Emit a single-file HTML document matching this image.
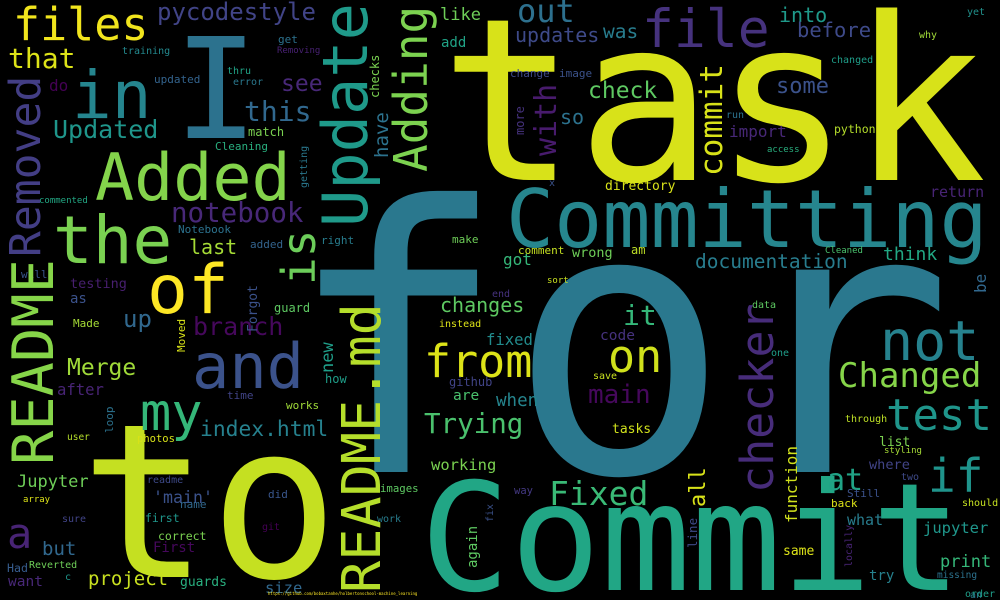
<!DOCTYPE html>
<html><head><meta charset="utf-8"><title>Commit message word cloud</title>
<style>
html,body{margin:0;padding:0;background:#000;}
svg{display:block;}
text{font-family:"DejaVu Sans Mono","Liberation Mono",monospace;}
</style></head>
<body>
<svg id="cloud" width="1000" height="600" viewBox="0 0 1000 600" xmlns="http://www.w3.org/2000/svg">
<rect x="0" y="0" width="1000" height="600" fill="#000"/>
</svg>
<script>
// word, x, baseline y, font size, color, rotated(1 = vertical bottom-to-top)
const words = [
["for",285,472,370,"#2a788e",0],
["task",440,180,227,"#d8e219",0],
["to",80,577,215,"#c5e021",0],
["Commit",420,590,150,"#21a685",0],
["Committing",506,247,80,"#26868e",0],
["I",174,138,140,"#2c728e",0],
["Added",95,200,65,"#84d44b",0],
["the",53,263,66,"#7ad151",0],
["in",72,118,66,"#25858e",0],
["files",13,40,45,"#f1e51d",0],
["of",147,313,68,"#fde725",0],
["and",192,388,62,"#3b528b",0],
["my",140,430,52,"#35b779",0],
["pycodestyle",157,20,24,"#414487",0],
["that",8,68,28,"#dde318",0],
["Updated",53,138,25,"#1f968b",0],
["this",244,121,28,"#31688e",0],
["see",281,91,23,"#482878",0],
["do",49,91,16,"#440154",0],
["updated",154,83,11,"#33638d",0],
["training",122,54,10,"#23898e",0],
["get",278,43,11,"#2c728e",0],
["Removing",277,53,9,"#482173",0],
["thru",227,74,10,"#20a386",0],
["error",233,85,10,"#2a788e",0],
["match",248,136,12,"#7ad151",0],
["Cleaning",215,150,11,"#29af7f",0],
["commented",39,203,9,"#22a884",0],
["notebook",171,222,27.5,"#482878",0],
["Notebook",178,233,11,"#2c728e",0],
["last",189,254,20,"#a5db36",0],
["added",250,248,11,"#33638d",0],
["right",321,244,11,"#287d8e",0],
["will",21,278,11,"#39568c",0],
["testing",70,288,13.5,"#481f70",0],
["as",70,303,14,"#3b528b",0],
["Made",73,327,11,"#a5db36",0],
["up",123,327,24,"#31688e",0],
["guard",274,312,12,"#5ec962",0],
["branch",193,335,25,"#46085c",0],
["how",325,383,12,"#1f9e89",0],
["Merge",67,375,23,"#a0da39",0],
["after",57,395,15.6,"#482475",0],
["time",227,399,11,"#414487",0],
["works",286,409,11,"#a0da39",0],
["index.html",200,436,21.3,"#26818e",0],
["user",67,440,9.5,"#b5de2b",0],
["photos",137,442,10.5,"#d8e219",0],
["Jupyter",17,487,17,"#6ece58",0],
["readme",147,483,10,"#3e4a89",0],
["'main'",153,503,16.6,"#3b528b",0],
["name",180,508,11,"#31688e",0],
["did",268,498,11,"#39568c",0],
["array",23,502,9,"#dde318",0],
["images",380,492,10.7,"#5ec962",0],
["a",7,548,42,"#482475",0],
["sure",62,522,10,"#414487",0],
["first",145,522,11.5,"#1f968b",0],
["work",377,522,10,"#287d8e",0],
["git",262,530,10,"#440154",0],
["correct",158,540,11.5,"#7ad151",0],
["but",42,555,19,"#31688e",0],
["First",153,552,14,"#46085c",0],
["Had",7,572,11.6,"#365c8d",0],
["Reverted",29,568,10,"#6ece58",0],
["c",65,580,10,"#1f968b",0],
["want",8,586,14.5,"#482878",0],
["project",88,585,19,"#c8e020",0],
["guards",180,586,13,"#29af7f",0],
["size",265,593,15.5,"#31688e",0],
["https://github.com/bobaxtanhe/holbertonschool-machine_learning",268,595,4,"#fde725",0],
["file",642,47,53,"#46327e",0],
["out",517,22,32,"#2d708e",0],
["updates",515,42,20,"#3e4a89",0],
["like",440,20,17,"#6ece58",0],
["was",603,38,19.5,"#287d8e",0],
["into",779,22,20,"#1f9a8a",0],
["before",797,37,20.5,"#3e4a89",0],
["add",441,47,14,"#20a386",0],
["yet",967,15,10,"#21918c",0],
["why",919,38,10,"#a0da39",0],
["changed",831,63,10,"#1f9e89",0],
["change",510,77,11,"#3e4a89",0],
["image",559,77,11,"#3b528b",0],
["check",588,98,23,"#5ec962",0],
["some",776,93,22,"#3b528b",0],
["so",560,124,20,"#2c728e",0],
["run",726,118,10,"#2c728e",0],
["python",834,133,11.5,"#b5de2b",0],
["import",729,137,16,"#482878",0],
["access",767,152,9,"#29af7f",0],
["x",549,186,10,"#3b528b",0],
["directory",605,190,13,"#d8e219",0],
["return",930,197,15,"#482475",0],
["make",452,243,11,"#6ece58",0],
["comment",518,254,11,"#c5e021",0],
["am",631,254,12,"#bddf26",0],
["wrong",572,257,13.5,"#6ece58",0],
["got",503,265,16,"#35b779",0],
["documentation",695,268,19.5,"#287d8e",0],
["think",883,260,18,"#22a884",0],
["Cleaned",825,253,9,"#4ac16d",0],
["sort",547,283,9,"#c8e020",0],
["end",492,297,10,"#46327e",0],
["an",970,598,10,"#2a788e",0],
["changes",440,312,20,"#5ec962",0],
["instead",439,327,10,"#dde318",0],
["it",623,325,28,"#35b779",0],
["fixed",486,345,15.6,"#228c8d",0],
["code",600,340,14.5,"#46327e",0],
["from",424,377,45,"#dde318",0],
["on",608,372,45,"#d0e11c",0],
["save",593,379,10,"#c8e020",0],
["data",752,308,10,"#5ec962",0],
["one",771,356,10,"#1f9e89",0],
["github",449,386,12,"#414487",0],
["are",453,400,14.5,"#4ac16d",0],
["main",588,403,26,"#46085c",0],
["when",496,406,17.5,"#25858e",0],
["Trying",424,433,27.5,"#4ac16d",0],
["tasks",612,433,13,"#d0e11c",0],
["not",880,360,55,"#26828e",0],
["Changed",838,387,34,"#86d549",0],
["test",886,430,44,"#1f958b",0],
["through",845,422,10,"#bddf26",0],
["list",879,446,13,"#7ad151",0],
["styling",884,453,9,"#a5db36",0],
["where",869,469,13.6,"#414487",0],
["if",928,492,46,"#1f948c",0],
["at",827,490,30,"#20a386",0],
["two",901,480,10,"#3e4a89",0],
["Still",847,497,11,"#3b528b",0],
["back",831,507,11,"#dde318",0],
["should",962,506,10,"#c5e021",0],
["what",847,525,15,"#287d8e",0],
["jupyter",923,533,15.5,"#1f968b",0],
["print",940,567,17,"#35b779",0],
["try",869,580,14,"#26818e",0],
["missing",937,578,9.5,"#2c728e",0],
["order",965,597,10,"#1f9e89",0],
["same",783,555,13,"#dde318",0],
["Fixed",549,505,33,"#3aba76",0],
["working",431,470,15.5,"#7ad151",0],
["way",514,494,10.5,"#443983",0],
["Update",367,227,62,"#1f9a8a",1],
["is",315,285,46,"#6ccd5a",1],
["Adding",427,172,46,"#7cd250",1],
["Removed",40,257,43,"#433e85",1],
["README",53,465,57,"#86d549",1],
["README.md",380,593,53.5,"#b5de2b",1],
["checks",379,98,12,"#7ad151",1],
["have",388,158,19,"#2c728e",1],
["getting",307,188,10,"#2a788e",1],
["Forgot",257,332,13,"#3b528b",1],
["Moved",185,352,11,"#d8e219",1],
["new",333,373,17,"#1f9e89",1],
["loop",113,433,11,"#2c728e",1],
["commit",722,176,31,"#d8e219",1],
["with",556,156,30,"#481b6d",1],
["more",524,135,12,"#46327e",1],
["be",986,293,16,"#31688e",1],
["checker",773,493,45,"#472c7a",1],
["function",797,523,16,"#d0e11c",1],
["all",705,507,22,"#d8e219",1],
["line",697,548,12.5,"#3e4a89",1],
["locally",852,567,10,"#482475",1],
["fix",493,522,10,"#3b528b",1],
["again",477,568,14,"#5ec962",1]
];
const svg = document.getElementById('cloud');
const NS = 'http://www.w3.org/2000/svg';
for (const w of words) {
  const t = document.createElementNS(NS, 'text');
  t.textContent = w[0];
  t.setAttribute('x', w[1]);
  t.setAttribute('y', w[2]);
  t.setAttribute('font-size', w[3]);
  t.setAttribute('fill', w[4]);
  if (w[5]) t.setAttribute('transform', 'rotate(-90 ' + w[1] + ' ' + w[2] + ')');
  
  
  svg.appendChild(t);
}
</script>
</body></html>
